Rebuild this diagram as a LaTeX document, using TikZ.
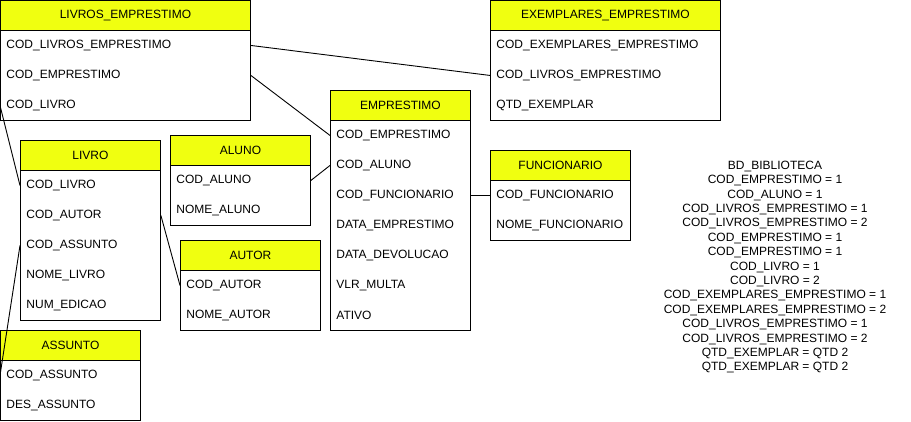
\documentclass[tikz,border=0pt]{standalone}
\usepackage{fontspec}
\setmainfont{Liberation Sans}
\usepackage{tikz}
\usetikzlibrary{positioning}
\usepackage{xcolor}
\definecolor{hdryellow}{RGB}{240,255,16}

\begin{document}
\begin{tikzpicture}[x=1pt,y=-1pt,line width=0.9pt,
  font=\fontsize{12}{14.4}\selectfont,
  hdr/.style={draw, fill=hdryellow, anchor=north west, minimum height=30, inner sep=0},
  row/.style={anchor=north west, minimum height=30, inner xsep=6, inner ysep=0, text width=#1, align=left}]
\useasboundingbox (0,0) rectangle (911,421);
% LIVROS_EMPRESTIMO
\node[hdr, minimum width=250] (le) at (0,0) {LIVROS\_EMPRESTIMO};
\node[row=238] (le1) at (0,30) {COD\_LIVROS\_EMPRESTIMO};
\node[row=238] (le2) at (0,60) {COD\_EMPRESTIMO};
\node[row=238] (le3) at (0,90) {COD\_LIVRO};
\draw (le.north west) rectangle (le3.south east);
% EXEMPLARES_EMPRESTIMO
\node[hdr, minimum width=230] (ex) at (490,0) {EXEMPLARES\_EMPRESTIMO};
\node[row=218] (ex1) at (490,30) {COD\_EXEMPLARES\_EMPRESTIMO};
\node[row=218] (ex2) at (490,60) {COD\_LIVROS\_EMPRESTIMO};
\node[row=218] (ex3) at (490,90) {QTD\_EXEMPLAR};
\draw (ex.north west) rectangle (ex3.south east);
% EMPRESTIMO
\node[hdr, minimum width=140] (em) at (330,90) {EMPRESTIMO};
\node[row=128] (em1) at (330,120) {COD\_EMPRESTIMO};
\node[row=128] (em2) at (330,150) {COD\_ALUNO};
\node[row=128] (em3) at (330,180) {COD\_FUNCIONARIO};
\node[row=128] (em4) at (330,210) {DATA\_EMPRESTIMO};
\node[row=128] (em5) at (330,240) {DATA\_DEVOLUCAO};
\node[row=128] (em6) at (330,270) {VLR\_MULTA};
\node[row=128] (em7) at (330,300) {ATIVO};
\draw (em.north west) rectangle (em7.south east);
% LIVRO
\node[hdr, minimum width=140] (li) at (20,140) {LIVRO};
\node[row=128] (li1) at (20,170) {COD\_LIVRO};
\node[row=128] (li2) at (20,200) {COD\_AUTOR};
\node[row=128] (li3) at (20,230) {COD\_ASSUNTO};
\node[row=128] (li4) at (20,260) {NOME\_LIVRO};
\node[row=128] (li5) at (20,290) {NUM\_EDICAO};
\draw (li.north west) rectangle (li5.south east);
% ALUNO
\node[hdr, minimum width=140] (al) at (170,135) {ALUNO};
\node[row=128] (al1) at (170,165) {COD\_ALUNO};
\node[row=128] (al2) at (170,195) {NOME\_ALUNO};
\draw (al.north west) rectangle (al2.south east);
% AUTOR
\node[hdr, minimum width=140] (au) at (180,240) {AUTOR};
\node[row=128] (au1) at (180,270) {COD\_AUTOR};
\node[row=128] (au2) at (180,300) {NOME\_AUTOR};
\draw (au.north west) rectangle (au2.south east);
% FUNCIONARIO
\node[hdr, minimum width=140] (fu) at (490,150) {FUNCIONARIO};
\node[row=128] (fu1) at (490,180) {COD\_FUNCIONARIO};
\node[row=128] (fu2) at (490,210) {NOME\_FUNCIONARIO};
\draw (fu.north west) rectangle (fu2.south east);
% ASSUNTO
\node[hdr, minimum width=140] (as) at (0,330) {ASSUNTO};
\node[row=128] (as1) at (0,360) {COD\_ASSUNTO};
\node[row=128] (as2) at (0,390) {DES\_ASSUNTO};
\draw (as.north west) rectangle (as2.south east);
% ligacoes
\draw (le1.east) -- (ex2.west);
\draw (le2.east) -- (em1.west);
\draw (le3.west) -- (li1.west);
\draw (li3.west) -- (as1.west);
\draw (li2.east) -- (au1.west);
\draw (al1.east) -- (em2.west);
\draw (em3.east) -- (fu1.west);
% notas
\node[align=center] (notas) at (775,267) {BD\_BIBLIOTECA\\
COD\_EMPRESTIMO = 1\\
COD\_ALUNO = 1\\
COD\_LIVROS\_EMPRESTIMO = 1\\
COD\_LIVROS\_EMPRESTIMO = 2\\
COD\_EMPRESTIMO = 1\\
COD\_EMPRESTIMO = 1\\
COD\_LIVRO = 1\\
COD\_LIVRO = 2\\
COD\_EXEMPLARES\_EMPRESTIMO = 1\\
COD\_EXEMPLARES\_EMPRESTIMO = 2\\
COD\_LIVROS\_EMPRESTIMO = 1\\
COD\_LIVROS\_EMPRESTIMO = 2\\
QTD\_EXEMPLAR = QTD 2\\
QTD\_EXEMPLAR = QTD 2};
\end{tikzpicture}
\end{document}
